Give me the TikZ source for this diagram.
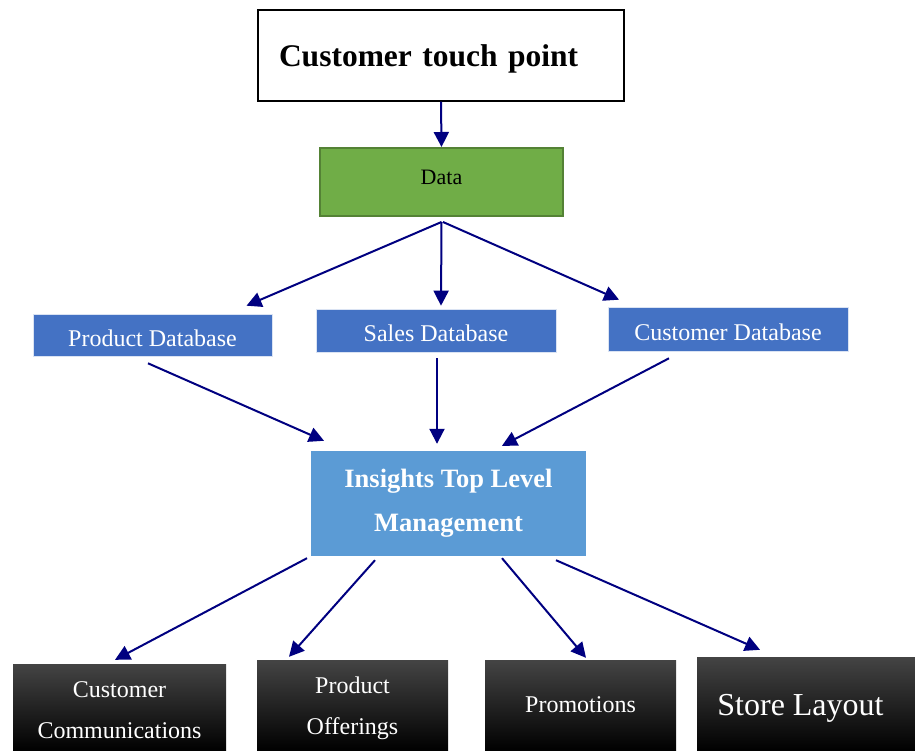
\documentclass[tikz,border=0pt]{standalone}
\usepackage{fontspec}
\setmainfont{Liberation Serif}
\usetikzlibrary{calc,arrows.meta}
\definecolor{navyline}{RGB}{0,0,128}
\definecolor{datagreen}{RGB}{112,173,71}
\definecolor{dataedge}{RGB}{84,130,53}
\definecolor{dbblue}{RGB}{68,114,196}
\definecolor{insblue}{RGB}{91,155,213}
\definecolor{topgray}{RGB}{68,68,68}
% move the ink of a label without changing the size of its node
\newcommand{\inkshift}[3]{\hspace*{#1}\raisebox{#2}[\height][\depth]{#3}\hspace*{-#1}}
\begin{document}
\begin{tikzpicture}[x=1pt,y=-1pt,
  arr/.style={draw=navyline,line width=2pt,-{Triangle[length=15pt,width=15pt]}},
  dbbox/.style={fill=dbblue,draw=white!80!dbblue,line width=0.6pt,text=white,
    font=\fontsize{24}{28}\selectfont,inner sep=0pt},
  outbox/.style={shading=axis,top color=topgray,middle color=black,bottom color=black,
    text=white,inner sep=0pt,align=center,font=\fontsize{24}{41}\selectfont}]
\useasboundingbox (0,0) rectangle (915,751);

% top source
\node[draw=black,line width=1.2pt,fill=white,text width=324pt,inner xsep=21pt,inner ysep=0pt,
  align=left,minimum height=91pt,font=\bfseries\fontsize{31.5}{36}\selectfont]
  (tp) at (441,55.5) {\inkshift{0pt}{-3pt}{Customer touch point}};

% data
\node[fill=datagreen,draw=dataedge,line width=2pt,minimum width=243pt,minimum height=68pt,
  inner sep=0pt,font=\fontsize{22}{26}\selectfont] (data) at (441.5,182) {\inkshift{0pt}{5pt}{Data}};

% databases
\node[dbbox,minimum width=239pt,minimum height=42pt] (pdb) at (152.5,335) {\inkshift{0pt}{-3pt}{Product Database}};
\node[dbbox,minimum width=240pt,minimum height=43pt] (sdb) at (436,330.5) {\inkshift{0pt}{-3pt}{Sales Database}};
\node[dbbox,minimum width=240pt,minimum height=44pt] (cdb) at (728,329) {\inkshift{0pt}{-3pt}{Customer Database}};

% insights
\node[fill=insblue,text=white,minimum width=275pt,minimum height=105pt,inner sep=0pt,
  align=center,font=\bfseries\fontsize{26.5}{44}\selectfont] (ins) at (448.5,503.5)
  {Insights Top Level\\Management};

% outputs
\node[outbox,minimum width=213pt,minimum height=87pt] (cc) at (119.5,707.5)
  {\inkshift{0pt}{-2pt}{\begin{tabular}{@{}c@{}}Customer\\Communications\end{tabular}}};
\node[outbox,minimum width=191pt,minimum height=91pt] (po) at (352.5,705.5)
  {\inkshift{0pt}{0pt}{\begin{tabular}{@{}c@{}}Product\\Offerings\end{tabular}}};
\node[outbox,minimum width=191pt,minimum height=91pt] (pr) at (580.5,705.5) {\inkshift{0pt}{1pt}{Promotions}};
\node[outbox,minimum width=218pt,minimum height=94pt,font=\fontsize{32}{36}\selectfont] (sl) at (806,704)
  {\inkshift{-5.5pt}{-4pt}{Store Layout}};

% connectors
\draw[arr] (tp.south) -- (data.north);
\draw[arr] ($(data.south)+(0,5)$) -- ($(pdb.north)+(94,-8)$);
\draw[arr] ($(data.south)+(0,5)$) -- ($(sdb.north)+(5,-3)$);
\draw[arr] ($(data.south)+(1.5,5)$) -- ($(cdb.north)+(-109,-7)$);
\draw[arr] ($(pdb.south)+(-4.5,7)$) -- ($(ins.north)+(-124.5,-10)$);
\draw[arr] ($(sdb.south)+(1,6)$) -- ($(ins.north)+(-11.5,-7)$);
\draw[arr] ($(cdb.south)+(-59,7)$) -- ($(ins.north)+(53.5,-5)$);
\draw[arr] ($(ins.south)+(-141.5,2)$) -- ($(cc.north)+(-4.5,-4)$);
\draw[arr] ($(ins.south)+(-73.5,4)$) -- ($(po.north)+(-63.5,-3)$);
\draw[arr] ($(ins.south)+(53.5,2)$) -- ($(pr.north)+(5.5,-2)$);
\draw[arr] ($(ins.south)+(107.5,4)$) -- ($(sl.north)+(-46,-7)$);
\end{tikzpicture}
\end{document}
